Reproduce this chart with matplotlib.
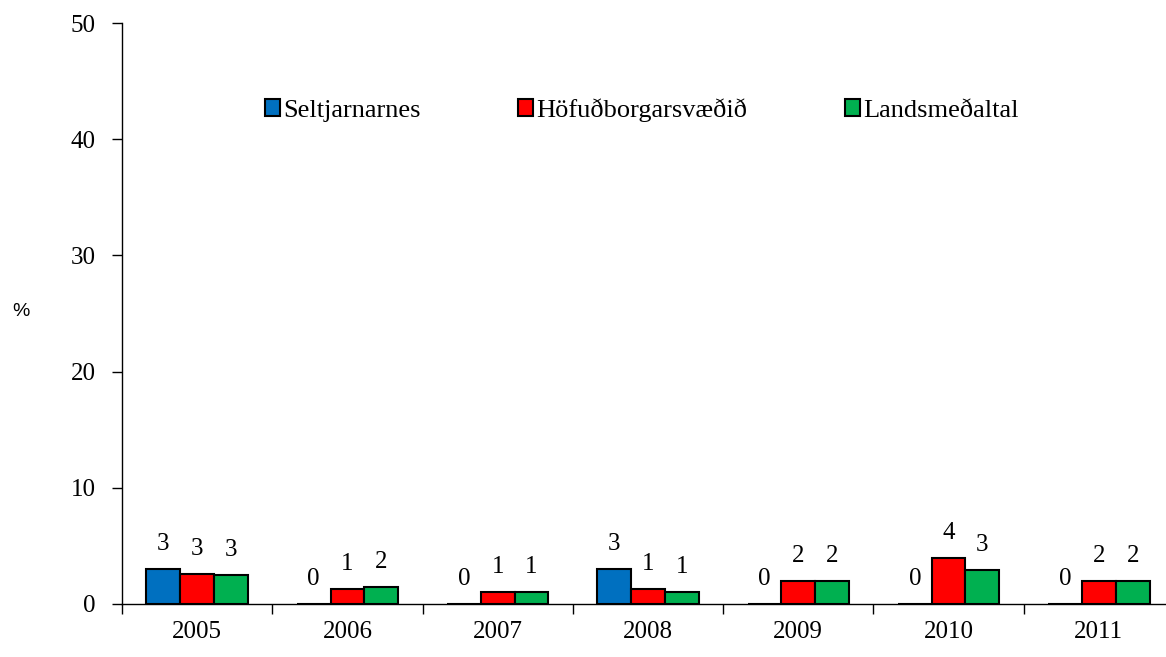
import numpy as np
import matplotlib
matplotlib.use('Agg')
import matplotlib.pyplot as plt
import matplotlib.ticker as mticker

plt.rcParams['font.family'] = ['Liberation Serif', 'DejaVu Serif']

years = ['2005', '2006', '2007', '2008', '2009', '2010', '2011']
series_names = ['Seltjarnarnes', 'Höfuðborgarsvæðið', 'Landsmeðaltal']
seltjarnarnes = [3.0, 0.0, 0.0, 3.0, 0.0, 0.0, 0.0]
hofudborg = [2.6, 1.3, 1.0, 1.3, 2.0, 4.0, 2.0]
landsmedaltal = [2.5, 1.5, 1.0, 1.0, 2.0, 2.9, 2.0]
colors = ['#0070C0', '#FF0000', '#00B050']

fig = plt.figure(figsize=(11.66, 6.57), dpi=100)
# axes slightly wider than the figure: the last category is cut off at the right edge
ax = fig.add_axes([122 / 1166, 53 / 657, 1052 / 1166, 581 / 657])

x = np.arange(len(years))
w = 0.225
handles = []
for i, (vals, c) in enumerate(zip([seltjarnarnes, hofudborg, landsmedaltal], colors)):
    pos = x + (i - 1) * w
    b = ax.bar(pos, vals, width=w, color=c, edgecolor='black', linewidth=1.5,
               label=series_names[i], zorder=2)
    handles.append(b)
    for px, v in zip(pos, vals):
        # round half up, like the spreadsheet labels
        ax.annotate(str(int(v + 0.5)), (px, v), xytext=(0, 18), textcoords='offset points',
                    ha='center', va='center', fontsize=18)

ax.set_xlim(-0.5, 6.5)
ax.set_ylim(0, 50)
ax.yaxis.set_major_locator(mticker.MultipleLocator(10))
ax.set_xticks(x)
ax.set_xticklabels(years, fontsize=18)
ax.set_xticks(np.arange(-0.5, 7, 1), minor=True)
ax.tick_params(axis='x', which='major', length=0, pad=12)
ax.tick_params(axis='x', which='minor', length=7, width=1, direction='out')
ax.tick_params(axis='y', labelsize=18, length=7, width=1, pad=12, direction='out')

for s in ['top', 'right']:
    ax.spines[s].set_visible(False)
ax.spines['left'].set_linewidth(1)
ax.spines['bottom'].set_linewidth(1)

fig.text(21 / 1166, 1 - 312 / 657, '%', fontsize=14, ha='center', va='center',
         family=['Liberation Sans', 'DejaVu Sans'])

fig.legend(handles=handles, loc='center left', bbox_to_anchor=(265 / 1166, 1 - 110 / 657),
           ncol=3, frameon=False, fontsize=19, handlelength=0.57, handleheight=0.57,
           handletextpad=0.12, columnspacing=3.7, borderpad=0, borderaxespad=0)

fig.savefig('out.png', dpi=100)
